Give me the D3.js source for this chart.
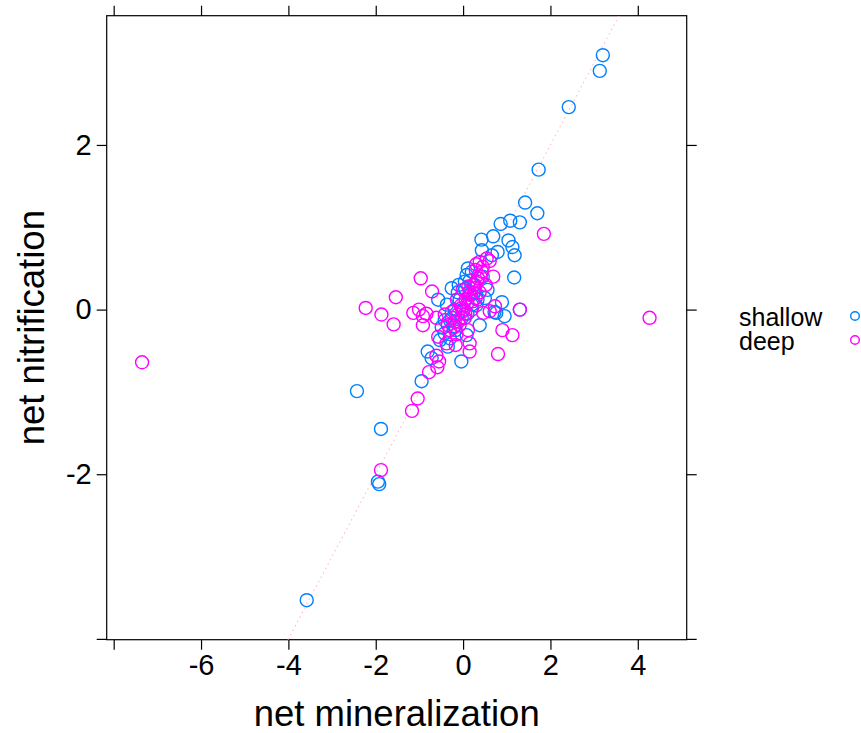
<!DOCTYPE html>
<html>
<head>
<meta charset="utf-8">
<script src="https://cdnjs.cloudflare.com/ajax/libs/d3/7.8.5/d3.min.js"></script>
<style>
  body { margin: 0; background: #fff; }
  text { font-family: "Liberation Sans", Arial, sans-serif; fill: #000; }
</style>
</head>
<body>
<svg width="861" height="733"></svg>
<script>
//Group names for the legend
let groups = ["shallow", "deep"];
let groupColors = ["#0080ff", "#ff00ff"];

//Shallow samples : net mineralization / net nitrification
let shallowX = [3.20, 3.13, 2.42, 1.73, 1.70, 1.42, 1.30, 1.08, 0.86, 0.69, 0.42, 1.04, 1.13, 1.18, 0.79,
  0.66, 0.43, 0.11, 1.17, -0.26, -0.57, 0.89, 0.72, 0.76, 0.38, 0.08, -0.42, -0.30, -0.49, -0.42,
  -0.81, -0.72, -0.04, -0.95, -2.43, -1.88, -1.95, -1.92, -3.58, 1.30, 0.45, 0.27, 0.56, 0.95, 0.15,
  -0.08, -0.19, -0.03, -0.30, 0.20, 0.33, 0.04, -0.12, -0.37, -0.53, -0.17, 0.50, 0.08, 0.20,
  -0.20, 0.00, 0.10, 0.25, -0.35, 0.30, -0.10, 0.05, -0.25, 0.15];
let shallowY = [3.09, 2.90, 2.46, 1.70, 1.17, 1.30, 1.06, 1.08, 1.04, 0.89, 0.85, 0.84, 0.76, 0.66, 0.70,
  0.66, 0.72, 0.50, 0.39, 0.26, 0.12, 0.09, -0.03, -0.04, -0.19, -0.31, -0.29, -0.35, -0.21, -0.13,
  -0.51, -0.59, -0.63, -0.87, -0.99, -1.45, -2.09, -2.12, -3.53, 0.00, 0.40, 0.30, 0.24, -0.08, 0.18,
  0.12, 0.00, -0.10, -0.13, 0.06, 0.12, 0.34, 0.21, 0.06, -0.37, -0.25, 0.14, 0.42, 0.46,
  -0.20, 0.00, -0.05, 0.20, -0.45, 0.05, 0.30, 0.25, -0.10, 0.35];

//Deep samples : net mineralization / net nitrification
let deepX = [1.85, 1.30, 1.13, 0.90, 0.80, 0.15, 0.15, -0.17, -0.38, -0.57, -0.61, -0.55, -0.59, -0.78, -1.04,
  -1.17, -1.88, -2.23, -1.87, -1.59, -1.54, -0.97, -0.71, -1.14, -1.01, -0.92, -0.84, -0.92, -0.61, 0.54,
  0.61, 0.69, 0.38, 0.73, 0.61, 0.46, 4.27, -7.35, -0.30, -0.19, -0.12, -0.03, 0.06, 0.15, 0.24,
  0.34, 0.43, -0.08, 0.04, 0.20, 0.29, -0.26, -0.14, -0.01, 0.29, 0.52, -0.42, -0.35, 0.11, 0.38,
  -0.22, -0.10, 0.00, 0.10, 0.18, 0.26, 0.32, 0.40, -0.05, 0.05, 0.12, 0.22, -0.15, 0.30, 0.45];
let deepY = [0.92, 0.00, -0.31, -0.25, -0.54, -0.51, -0.41, -0.43, -0.41, -0.33, -0.56, -0.63, -0.70, -0.76, -1.08,
  -1.23, -1.95, 0.02, -0.06, -0.18, 0.15, 0.38, 0.22, -0.04, 0.00, -0.08, -0.05, -0.19, -0.10, 0.62,
  0.59, 0.40, 0.58, 0.04, -0.02, -0.04, -0.10, -0.64, -0.25, -0.15, -0.06, 0.02, 0.12, 0.21, 0.30,
  0.38, 0.46, -0.19, -0.10, 0.00, 0.14, -0.03, 0.12, 0.24, 0.48, 0.30, -0.06, -0.19, -0.25, 0.21,
  -0.22, -0.12, -0.02, 0.08, 0.18, 0.26, 0.34, 0.40, 0.05, -0.05, 0.28, 0.10, -0.30, 0.55, 0.52];

//Tick values of both axes, the first tick of each axis carries no label
let xTicks = [-8, -6, -4, -2, 0, 2, 4];
let yTicks = [-4, -2, 0, 2];

let svg = d3.select("svg"),
    panel = {left: 106.7, right: 686.7, top: 15.7, bottom: 639.7},
    tickLen = 10;

//Axis limits (data range padded like lattice does)
let x = d3.scaleLinear().domain([-8.16, 5.12]).range([panel.left, panel.right]),
    y = d3.scaleLinear().domain([-4.01, 3.57]).range([panel.bottom, panel.top]);

let fmt = d => (d < 0 ? "-" : "") + Math.abs(d);

//Ticks on all four sides, labels only on bottom and left
svg.append("g")
    .attr("transform", "translate(0," + panel.bottom + ")")
    .call(d3.axisBottom(x).tickValues(xTicks).tickSize(tickLen).tickPadding(5)
      .tickFormat(d => d == xTicks[0] ? "" : fmt(d)));
svg.append("g")
    .attr("transform", "translate(0," + panel.top + ")")
    .call(d3.axisTop(x).tickValues(xTicks).tickSize(tickLen).tickFormat(""));
svg.append("g")
    .attr("transform", "translate(" + panel.left + ",0)")
    .call(d3.axisLeft(y).tickValues(yTicks).tickSize(tickLen).tickPadding(5)
      .tickFormat(d => d == yTicks[0] ? "" : fmt(d)));
svg.append("g")
    .attr("transform", "translate(" + panel.right + ",0)")
    .call(d3.axisRight(y).tickValues(yTicks).tickSize(tickLen).tickFormat(""));

//Remove the default axis domain paths, the panel box is drawn instead
svg.selectAll(".domain").remove();
svg.selectAll(".tick line").attr("stroke", "#000").attr("stroke-width", 1.2);
svg.selectAll(".tick text").style("font-size", "29px").attr("fill", "#000");

//Panel box
svg.append("rect")
    .attr("x", panel.left)
    .attr("y", panel.top)
    .attr("width", panel.right - panel.left)
    .attr("height", panel.bottom - panel.top)
    .attr("fill", "none")
    .attr("stroke", "#000")
    .attr("stroke-width", 1.2);

//Clip path so the reference line stays inside the panel
svg.append("clipPath").attr("id", "clip")
  .append("rect")
    .attr("x", panel.left).attr("y", panel.top)
    .attr("width", panel.right - panel.left)
    .attr("height", panel.bottom - panel.top);

//Reference line y = x
let lineEnds = [-4.01, 3.57];
svg.append("line")
    .attr("clip-path", "url(#clip)")
    .attr("x1", x(lineEnds[0])).attr("y1", y(lineEnds[0]))
    .attr("x2", x(lineEnds[1])).attr("y2", y(lineEnds[1]))
    .attr("stroke", "#ffc0cb")
    .attr("stroke-width", 1.2)
    .attr("stroke-dasharray", "1.5,3.5");

//Points for each group
let series = [[shallowX, shallowY], [deepX, deepY]];
series.forEach(function(s, k) {
  svg.append("g").selectAll("circle")
    .data(s[0])
    .enter().append("circle")
    .attr("cx", d => x(d))
    .attr("cy", (d, i) => y(s[1][i]))
    .attr("r", 6.5)
    .attr("fill", "none")
    .attr("stroke", groupColors[k])
    .attr("stroke-width", 1.4);
});

//Axis titles
svg.append("text")
    .attr("x", (panel.left + panel.right) / 2)
    .attr("y", 726)
    .attr("text-anchor", "middle")
    .style("font-size", "36.5px")
    .text("net mineralization");
svg.append("text")
    .attr("transform", "translate(44," + (panel.top + panel.bottom) / 2 + ") rotate(-90)")
    .attr("text-anchor", "middle")
    .style("font-size", "36.5px")
    .text("net nitrification");

//Legend on the right
let legend = svg.append("g");
groups.forEach(function(g, i) {
  legend.append("text")
    .attr("x", 739)
    .attr("y", 326 + i * 24)
    .style("font-size", "25px")
    .text(g);
  legend.append("circle")
    .attr("cx", 855)
    .attr("cy", 316 + i * 24)
    .attr("r", 4.3)
    .attr("fill", "none")
    .attr("stroke", groupColors[i])
    .attr("stroke-width", 1.4);
});
</script>
</body>
</html>
